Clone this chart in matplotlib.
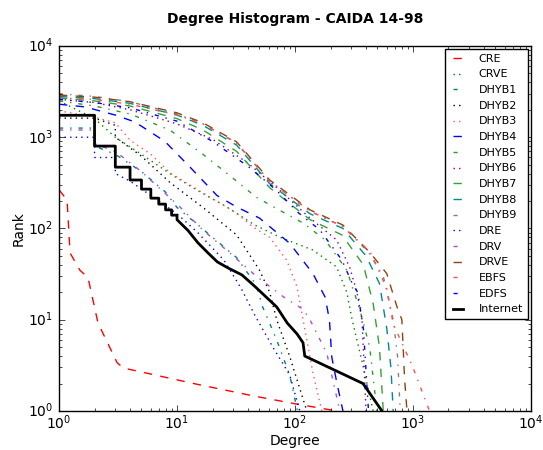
import numpy as np
import matplotlib
matplotlib.use('Agg')
import matplotlib.pyplot as plt

plt.style.use('classic')
plt.rcParams['mathtext.fontset'] = 'dejavusans'
plt.rcParams['font.family'] = 'DejaVu Sans'

# degree / rank pairs
cre_d = [1, 1.17, 1.24, 1.5, 1.76, 2.14, 3.1, 3.5, 15.7, 46, 100, 227]
cre_r = [265, 205, 54, 35, 29, 9.2, 3.4, 2.96, 1.93, 1.45, 1.2, 1]

crve_d = [1, 2, 3, 5, 8.7, 15, 26.5, 45, 75, 142, 225, 275, 305, 380, 460]
crve_r = [2500, 1600, 1000, 650, 400, 260, 172, 110, 80, 58, 38, 20, 10, 3, 1]

dhyb1_d = [1, 2, 2, 3, 5, 8, 10, 15, 20, 32, 47, 53, 70, 90, 105]
dhyb1_r = [1260, 1260, 800, 650, 420, 250, 170, 110, 80, 48, 24, 14, 6, 2.5, 1]

dhyb2_d = [1, 2, 3, 3, 5, 8.7, 16.6, 32, 50, 61, 70, 90, 104, 126]
dhyb2_r = [1620, 1620, 1350, 1000, 620, 320, 170, 85, 35, 20, 10, 4, 2.2, 1]

dhyb3_d = [1, 2, 3, 4, 6, 8.7, 16.6, 32, 44, 61, 85, 104, 142, 169]
dhyb3_r = [1950, 1660, 1440, 930, 650, 410, 245, 147, 104, 80, 45, 23, 2.6, 1]

dhyb4_d = [1, 1.66, 3, 4.4, 7.9, 12.9, 21.8, 32, 50, 90, 142, 180, 196, 205, 227, 255]
dhyb4_r = [2300, 2150, 1750, 1470, 900, 470, 230, 172, 130, 69, 32, 17.7, 9.9, 3.9, 2, 1]

dhyb5_d = [1, 2, 4, 8.7, 16.6, 28, 47, 80, 117, 180, 275, 355, 430, 495]
dhyb5_r = [2500, 2200, 1800, 1200, 650, 380, 220, 150, 115, 75, 35, 12.8, 5, 1]

dhyb6_d = [1, 2, 4, 10, 20, 40, 75, 134, 225, 290, 335, 370, 400]
dhyb6_r = [2600, 2400, 2000, 1400, 950, 520, 260, 130, 75, 38, 20, 10, 1]

dhyb7_d = [1, 2, 4, 10, 16.6, 32, 61, 134, 250, 380, 460, 520, 560]
dhyb7_r = [2700, 2500, 2200, 1600, 1200, 700, 280, 125, 85, 40, 15, 5, 1]

dhyb8_d = [1, 2, 4, 10, 16.6, 32, 61, 134, 255, 400, 520, 600, 650, 680]
dhyb8_r = [2800, 2650, 2350, 1750, 1350, 820, 310, 145, 100, 50, 25, 8, 3, 1]

dhyb9_d = [1, 2, 4, 10, 16.6, 32, 61, 134, 255, 420, 560, 680, 740, 780]
dhyb9_r = [3000, 2800, 2450, 1800, 1400, 860, 330, 155, 105, 55, 30, 10, 4, 1]

dre_d = [1, 2, 2, 3, 3, 4, 6, 10, 15, 25, 35, 46, 65, 90, 110]
dre_r = [1000, 1000, 600, 600, 400, 330, 230, 145, 90, 45, 22, 11, 5, 2.5, 1]

drv_d = [1, 2, 2, 3, 5, 10.6, 16.6, 28, 47, 79, 117, 134, 186, 240]
drv_r = [1200, 1200, 850, 700, 420, 172, 96, 54, 30, 18, 13, 10, 4.3, 1]

drve_d = [1, 2, 4, 10, 16.6, 32, 61, 134, 255, 435, 600, 730, 805, 850, 890]
drve_r = [2900, 2750, 2450, 1850, 1440, 890, 340, 160, 109, 54, 32, 14, 10, 2.2, 1]

ebfs_d = [1, 2, 4, 10, 16.6, 32, 61, 134, 255, 435, 600, 680, 1000, 1380]
ebfs_r = [2700, 2600, 2300, 1750, 1400, 870, 330, 155, 105, 55, 22, 9, 3, 1]

edfs_d = [1, 2, 4, 10, 20, 40, 69, 106, 163, 250, 310, 340, 380, 420]
edfs_r = [2600, 2400, 2100, 1500, 900, 480, 265, 150, 96, 45, 24, 20, 8, 1]

inet_d = [1, 2, 2, 3, 3, 4, 4, 5, 5, 6, 6, 7, 7, 8, 8, 9, 9, 10, 10,
          12.4, 15, 18.3, 22, 27, 35.5, 46, 70, 86, 104, 117, 121, 377, 546]
inet_r = [1740, 1740, 800, 800, 470, 470, 340, 340, 270, 270, 215, 215, 185,
          185, 160, 160, 140, 140, 125, 95, 70, 54, 43, 37, 31, 23, 13.8,
          9.2, 7, 5.6, 4, 2, 1]

series = [
    ('CRE', cre_d, cre_r, 'red', '--'),
    ('CRVE', crve_d, crve_r, 'green', ':'),
    ('DHYB1', dhyb1_d, dhyb1_r, '#008080', '-.'),
    ('DHYB2', dhyb2_d, dhyb2_r, 'black', ':'),
    ('DHYB3', dhyb3_d, dhyb3_r, '#ff5a5a', ':'),
    ('DHYB4', dhyb4_d, dhyb4_r, 'blue', '--'),
    ('DHYB5', dhyb5_d, dhyb5_r, '#2e9a2e', '-.'),
    ('DHYB6', dhyb6_d, dhyb6_r, 'purple', ':'),
    ('DHYB7', dhyb7_d, dhyb7_r, '#33a333', '--'),
    ('DHYB8', dhyb8_d, dhyb8_r, '#008b8b', '--'),
    ('DHYB9', dhyb9_d, dhyb9_r, 'gray', '-.'),
    ('DRE', dre_d, dre_r, 'blue', ':'),
    ('DRV', drv_d, drv_r, '#b050c0', '-.'),
    ('DRVE', drve_d, drve_r, '#8b4513', '--'),
    ('EBFS', ebfs_d, ebfs_r, '#ff5050', '-.'),
    ('EDFS', edfs_d, edfs_r, 'blue', '-.'),
]

fig = plt.figure(figsize=(5.43, 4.5), dpi=100, facecolor='white')
ax = fig.add_axes([0.1087, 0.0867, 0.8691, 0.8111])
for name, d, r, c, ls in series:
    ax.plot(d, r, color=c, linestyle=ls, lw=1, label=name)
ax.plot(inet_d, inet_r, 'k-', lw=2, label='Internet')

ax.set_xscale('log')
ax.set_yscale('log')
ax.set_xlim(1, 1e4)
ax.set_ylim(1, 1e4)
ax.set_xlabel('Degree', fontsize=10, labelpad=1)
ax.set_ylabel('Rank', fontsize=10, labelpad=2)
ax.set_title('Degree Histogram - CAIDA 14-98', fontsize=10, fontweight='bold', y=1.045)
ax.tick_params(labelsize=10)
ax.tick_params(axis='x', which='both', pad=2)
ax.legend(loc='upper right', fontsize=8, numpoints=2, handlelength=1.5,
          handletextpad=1.1, fancybox=False, borderaxespad=0.3, labelspacing=0.51)
fig.savefig('out.png', dpi=100, facecolor='white')
